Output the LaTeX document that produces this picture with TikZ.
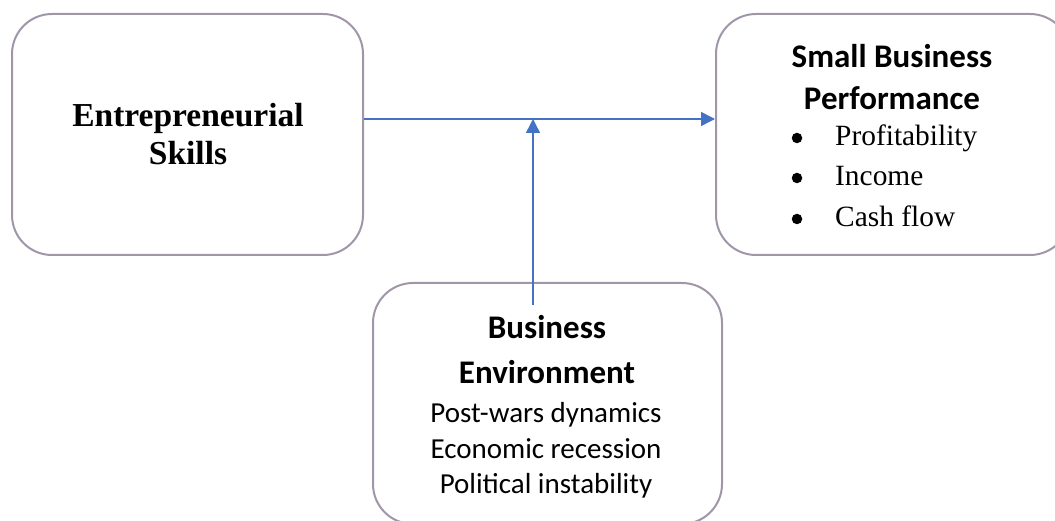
\documentclass[tikz,border=0pt]{standalone}
\usepackage{fontspec}
\setmainfont{Liberation Serif}
\newfontfamily\calibri{Carlito}
\usetikzlibrary{arrows.meta, positioning}
\definecolor{boxgray}{HTML}{A096A8}
\definecolor{arrowblue}{HTML}{4472C4}

\begin{document}
\begin{tikzpicture}[x=1pt, y=-1pt,
    every node/.style={inner sep=0pt},
    box/.style={draw=boxgray, line width=2pt, rounded corners=40pt, minimum width=351pt, minimum height=241pt},
    serifhead/.style={font=\fontsize{33.5}{38}\selectfont\bfseries, anchor=base},
    sanshead/.style={font=\calibri\fontsize{33}{40}\selectfont\bfseries, anchor=base},
    sanstext/.style={font=\calibri\fontsize{29}{35}\selectfont, anchor=base},
    itemtext/.style={font=\fontsize{29.4}{35}\selectfont, anchor=base west},
    bulletmark/.style={circle, fill=black, minimum size=10.5pt},
    arrow/.style={-{Triangle[length=14pt, width=14pt]}, draw=arrowblue, line width=1.5pt}
]
\useasboundingbox (0,0) rectangle (1055,521);
\clip (0,0) rectangle (1055,521);
% boxes
\node[box] (skills) at (187.5,134.5) {};
\node[box, minimum width=354pt] (perf) at (893,134.5) {};
\node[box, minimum width=349pt] (env) at (547.5,403.5) {};
% left box text
\node[serifhead] (skills1) at (188,127) {Entrepreneurial};
\node[serifhead] (skills2) at (188,165) {Skills};
% right box text
\node[sanshead] (perf1) at (892,68) {Small Business};
\node[sanshead] (perf2) at (892,110) {Performance};
\node[bulletmark] (b1) at (797,138) {};
\node[bulletmark] (b2) at (797,178) {};
\node[bulletmark] (b3) at (797,219) {};
\node[itemtext] (item1) at (835,146) {Profitability};
\node[itemtext] (item2) at (835,186) {Income};
\node[itemtext] (item3) at (835,227) {Cash flow};
% bottom box text
\node[sanshead] (env1) at (547,338) {Business};
\node[sanshead] (env2) at (547,383) {Environment};
\node[sanstext] (env3) at (546,422) {Post-wars dynamics};
\node[sanstext] (env4) at (546,458) {Economic recession};
\node[sanstext] (env5) at (546,493) {Political instability};
% connectors
\coordinate (join) at (533,119);
\draw[arrow] ([yshift=15.5pt]skills.east) -- ([yshift=15.5pt]perf.west);
\draw[arrow] ([shift={(-14.5pt,-23pt)}]env.north) -- (join);
\end{tikzpicture}
\end{document}
